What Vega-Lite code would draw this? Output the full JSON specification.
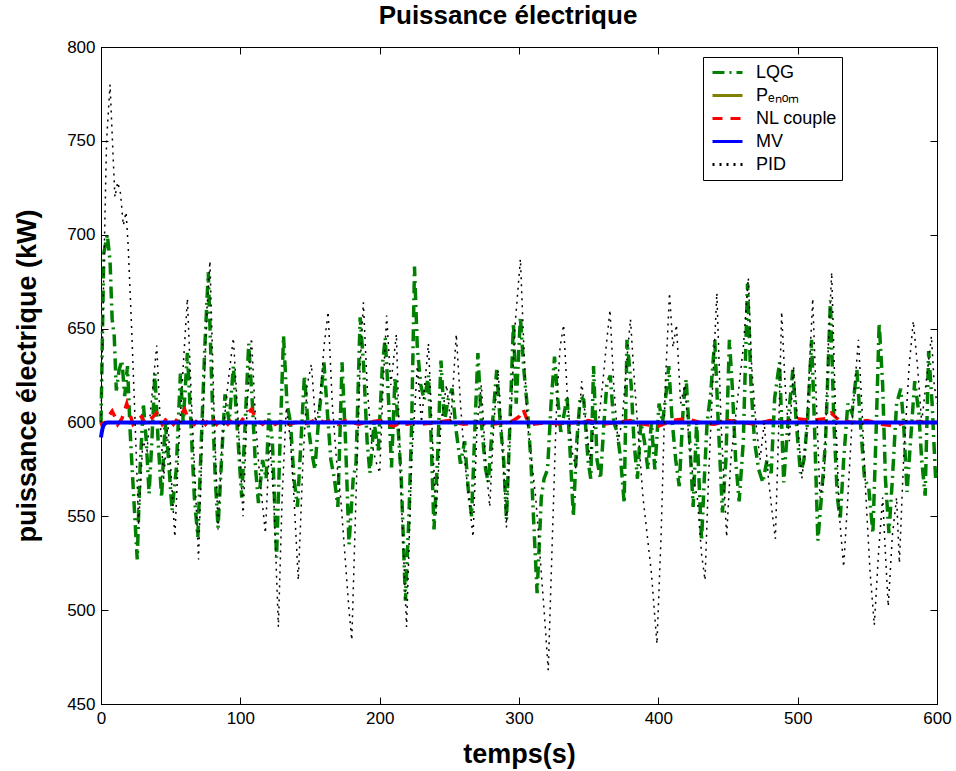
{
"$schema": "https://vega.github.io/schema/vega-lite/v6.json",
"width": 836, "height": 657,
"autosize": {"type": "none"},
"padding": {"left": 101, "top": 47, "right": 19, "bottom": 67},
"background": "white",
"config": {
  "font": "Liberation Sans",
  "view": {"stroke": "black", "strokeWidth": 1},
  "axis": {"grid": false, "domainColor": "black", "tickColor": "black", "labelColor": "black", "titleColor": "black", "labelFont": "Liberation Sans", "titleFont": "Liberation Sans", "labelFontSize": 17, "titleFontSize": 27, "titleFontWeight": "bold", "labelFlush": false, "labelOverlap": false, "tickSize": -7, "labelPadding": 13}
},
"title": {"text": "Puissance électrique", "fontSize": 26, "fontWeight": "bold", "font": "Liberation Sans", "color": "black", "offset": 9, "dx": -11},
"datasets": {
"lqg": [
{"s":"LQG","t":0,"p":600},{"s":"LQG","t":2,"p":690},{"s":"LQG","t":4.5,"p":700},{"s":"LQG","t":6.5,"p":686},{"s":"LQG","t":8,"p":655},{"s":"LQG","t":9.5,"p":646},{"s":"LQG","t":11,"p":617},{"s":"LQG","t":13,"p":628},{"s":"LQG","t":15,"p":633},{"s":"LQG","t":17,"p":614},{"s":"LQG","t":19,"p":630},{"s":"LQG","t":21,"p":594},{"s":"LQG","t":23.5,"p":560},{"s":"LQG","t":26,"p":527},{"s":"LQG","t":28,"p":575},{"s":"LQG","t":30.4,"p":610},{"s":"LQG","t":32.5,"p":590},{"s":"LQG","t":34.5,"p":562},{"s":"LQG","t":36.5,"p":590},{"s":"LQG","t":38.7,"p":626},{"s":"LQG","t":41,"p":590},{"s":"LQG","t":43.5,"p":560},{"s":"LQG","t":46,"p":600},{"s":"LQG","t":48,"p":585},{"s":"LQG","t":51,"p":553},{"s":"LQG","t":54,"p":575},{"s":"LQG","t":57,"p":626},{"s":"LQG","t":59,"p":600},{"s":"LQG","t":62,"p":637},{"s":"LQG","t":64.5,"p":600},{"s":"LQG","t":67,"p":560},{"s":"LQG","t":69.5,"p":539},{"s":"LQG","t":72,"p":590},{"s":"LQG","t":74.5,"p":640},{"s":"LQG","t":77,"p":680},{"s":"LQG","t":79.5,"p":620},{"s":"LQG","t":82,"p":570},{"s":"LQG","t":84,"p":544},{"s":"LQG","t":86.5,"p":580},{"s":"LQG","t":89,"p":615},{"s":"LQG","t":92,"p":600},{"s":"LQG","t":95,"p":630},{"s":"LQG","t":97.5,"p":600},{"s":"LQG","t":101,"p":560},{"s":"LQG","t":103.5,"p":600},{"s":"LQG","t":106,"p":642},{"s":"LQG","t":108.5,"p":612},{"s":"LQG","t":111,"p":575},{"s":"LQG","t":113,"p":557},{"s":"LQG","t":116,"p":580},{"s":"LQG","t":118.5,"p":570},{"s":"LQG","t":120.5,"p":605},{"s":"LQG","t":123,"p":590},{"s":"LQG","t":126,"p":528},{"s":"LQG","t":128.5,"p":590},{"s":"LQG","t":131,"p":646},{"s":"LQG","t":133.5,"p":610},{"s":"LQG","t":136,"p":600},{"s":"LQG","t":138.5,"p":570},{"s":"LQG","t":141,"p":555},{"s":"LQG","t":143.5,"p":590},{"s":"LQG","t":146,"p":625},{"s":"LQG","t":148.5,"p":600},{"s":"LQG","t":151,"p":585},{"s":"LQG","t":153.5,"p":575},{"s":"LQG","t":156,"p":600},{"s":"LQG","t":160,"p":632},{"s":"LQG","t":162.5,"p":605},{"s":"LQG","t":165,"p":580},{"s":"LQG","t":167.5,"p":570},{"s":"LQG","t":170,"p":555},{"s":"LQG","t":173,"p":632},{"s":"LQG","t":175.5,"p":590},{"s":"LQG","t":178,"p":535},{"s":"LQG","t":181,"p":570},{"s":"LQG","t":183,"p":578},{"s":"LQG","t":186,"p":656},{"s":"LQG","t":188.5,"p":630},{"s":"LQG","t":191,"p":590},{"s":"LQG","t":193,"p":573},{"s":"LQG","t":196,"p":600},{"s":"LQG","t":199,"p":585},{"s":"LQG","t":202,"p":631},{"s":"LQG","t":204,"p":645},{"s":"LQG","t":206.5,"p":610},{"s":"LQG","t":208.5,"p":576},{"s":"LQG","t":211,"p":624},{"s":"LQG","t":213,"p":600},{"s":"LQG","t":215.5,"p":570},{"s":"LQG","t":218.5,"p":505},{"s":"LQG","t":221,"p":550},{"s":"LQG","t":223,"p":600},{"s":"LQG","t":225,"p":683},{"s":"LQG","t":227,"p":640},{"s":"LQG","t":229.5,"p":620},{"s":"LQG","t":232,"p":612},{"s":"LQG","t":235,"p":625},{"s":"LQG","t":237,"p":590},{"s":"LQG","t":239,"p":543},{"s":"LQG","t":241.5,"p":580},{"s":"LQG","t":244,"p":633},{"s":"LQG","t":246.5,"p":600},{"s":"LQG","t":249,"p":612},{"s":"LQG","t":252,"p":618},{"s":"LQG","t":255,"p":595},{"s":"LQG","t":258,"p":578},{"s":"LQG","t":261,"p":590},{"s":"LQG","t":263.5,"p":565},{"s":"LQG","t":266,"p":550},{"s":"LQG","t":268.5,"p":600},{"s":"LQG","t":270.5,"p":637},{"s":"LQG","t":273,"p":600},{"s":"LQG","t":276,"p":575},{"s":"LQG","t":278,"p":568},{"s":"LQG","t":281,"p":600},{"s":"LQG","t":284,"p":628},{"s":"LQG","t":286.5,"p":600},{"s":"LQG","t":289,"p":580},{"s":"LQG","t":291,"p":548},{"s":"LQG","t":293.5,"p":600},{"s":"LQG","t":296,"p":653},{"s":"LQG","t":298,"p":610},{"s":"LQG","t":301,"p":656},{"s":"LQG","t":303.5,"p":628},{"s":"LQG","t":306,"p":608},{"s":"LQG","t":308.5,"p":580},{"s":"LQG","t":311,"p":540},{"s":"LQG","t":313,"p":509},{"s":"LQG","t":316,"p":560},{"s":"LQG","t":318,"p":570},{"s":"LQG","t":320.5,"p":575},{"s":"LQG","t":323,"p":610},{"s":"LQG","t":325.5,"p":635},{"s":"LQG","t":327.5,"p":615},{"s":"LQG","t":330,"p":595},{"s":"LQG","t":332.5,"p":605},{"s":"LQG","t":334.5,"p":614},{"s":"LQG","t":337,"p":580},{"s":"LQG","t":339,"p":550},{"s":"LQG","t":341.5,"p":590},{"s":"LQG","t":344,"p":614},{"s":"LQG","t":346.5,"p":612},{"s":"LQG","t":349.5,"p":580},{"s":"LQG","t":351.5,"p":570},{"s":"LQG","t":353.5,"p":630},{"s":"LQG","t":356,"p":580},{"s":"LQG","t":358.5,"p":570},{"s":"LQG","t":361,"p":600},{"s":"LQG","t":363,"p":620},{"s":"LQG","t":365.5,"p":625},{"s":"LQG","t":368,"p":600},{"s":"LQG","t":370.5,"p":595},{"s":"LQG","t":373,"p":580},{"s":"LQG","t":375.5,"p":557},{"s":"LQG","t":377.5,"p":644},{"s":"LQG","t":380.5,"p":620},{"s":"LQG","t":382.5,"p":590},{"s":"LQG","t":385,"p":570},{"s":"LQG","t":387.5,"p":600},{"s":"LQG","t":390,"p":590},{"s":"LQG","t":392.5,"p":575},{"s":"LQG","t":395,"p":600},{"s":"LQG","t":397.5,"p":575},{"s":"LQG","t":400.5,"p":610},{"s":"LQG","t":403,"p":600},{"s":"LQG","t":405.5,"p":615},{"s":"LQG","t":407.5,"p":630},{"s":"LQG","t":410,"p":600},{"s":"LQG","t":412.5,"p":580},{"s":"LQG","t":415,"p":566},{"s":"LQG","t":418,"p":610},{"s":"LQG","t":420,"p":623},{"s":"LQG","t":422.5,"p":590},{"s":"LQG","t":425,"p":555},{"s":"LQG","t":427.5,"p":600},{"s":"LQG","t":431,"p":537},{"s":"LQG","t":433,"p":570},{"s":"LQG","t":435,"p":600},{"s":"LQG","t":437.5,"p":615},{"s":"LQG","t":440.5,"p":644},{"s":"LQG","t":443,"p":600},{"s":"LQG","t":446,"p":552},{"s":"LQG","t":448.5,"p":580},{"s":"LQG","t":451,"p":644},{"s":"LQG","t":453,"p":620},{"s":"LQG","t":455.5,"p":580},{"s":"LQG","t":458,"p":558},{"s":"LQG","t":461,"p":590},{"s":"LQG","t":464,"p":674},{"s":"LQG","t":466.5,"p":620},{"s":"LQG","t":469,"p":590},{"s":"LQG","t":472,"p":575},{"s":"LQG","t":475,"p":568},{"s":"LQG","t":478,"p":580},{"s":"LQG","t":481,"p":573},{"s":"LQG","t":483.5,"p":613},{"s":"LQG","t":487,"p":632},{"s":"LQG","t":490,"p":568},{"s":"LQG","t":493,"p":600},{"s":"LQG","t":496.5,"p":628},{"s":"LQG","t":499,"p":600},{"s":"LQG","t":502,"p":573},{"s":"LQG","t":504.5,"p":580},{"s":"LQG","t":507,"p":600},{"s":"LQG","t":510,"p":644},{"s":"LQG","t":512,"p":600},{"s":"LQG","t":514.5,"p":537},{"s":"LQG","t":517,"p":560},{"s":"LQG","t":520,"p":590},{"s":"LQG","t":523.5,"p":665},{"s":"LQG","t":526,"p":600},{"s":"LQG","t":528.5,"p":560},{"s":"LQG","t":530.5,"p":548},{"s":"LQG","t":533,"p":580},{"s":"LQG","t":536,"p":610},{"s":"LQG","t":539,"p":605},{"s":"LQG","t":542.5,"p":628},{"s":"LQG","t":545,"p":600},{"s":"LQG","t":548,"p":570},{"s":"LQG","t":551,"p":565},{"s":"LQG","t":554,"p":541},{"s":"LQG","t":556.5,"p":600},{"s":"LQG","t":558.5,"p":653},{"s":"LQG","t":561,"p":620},{"s":"LQG","t":563,"p":570},{"s":"LQG","t":565.5,"p":541},{"s":"LQG","t":568,"p":570},{"s":"LQG","t":571,"p":610},{"s":"LQG","t":574,"p":618},{"s":"LQG","t":576,"p":600},{"s":"LQG","t":578.5,"p":563},{"s":"LQG","t":581,"p":590},{"s":"LQG","t":584,"p":622},{"s":"LQG","t":587,"p":605},{"s":"LQG","t":589,"p":580},{"s":"LQG","t":591.5,"p":561},{"s":"LQG","t":594,"p":638},{"s":"LQG","t":596.5,"p":610},{"s":"LQG","t":599,"p":570},{"s":"LQG","t":600,"p":575}
],
"pnom": [{"s":"Pₑₙₒₘ","t":0,"p":600},{"s":"Pₑₙₒₘ","t":600,"p":600}],
"nl": [
{"s":"NL couple","t":0,"p":600},{"s":"NL couple","t":1,"p":598},{"s":"NL couple","t":3,"p":600},{"s":"NL couple","t":5,"p":603},{"s":"NL couple","t":8,"p":606},{"s":"NL couple","t":10,"p":603},{"s":"NL couple","t":12,"p":599},{"s":"NL couple","t":15,"p":602},{"s":"NL couple","t":18.5,"p":610},{"s":"NL couple","t":20.5,"p":605},{"s":"NL couple","t":23,"p":599},{"s":"NL couple","t":26,"p":601},{"s":"NL couple","t":29,"p":603},{"s":"NL couple","t":32,"p":599},{"s":"NL couple","t":36,"p":602},{"s":"NL couple","t":40,"p":605},{"s":"NL couple","t":44,"p":599},{"s":"NL couple","t":48,"p":603},{"s":"NL couple","t":52,"p":599},{"s":"NL couple","t":56,"p":603},{"s":"NL couple","t":60,"p":607},{"s":"NL couple","t":63,"p":601},{"s":"NL couple","t":67,"p":599},{"s":"NL couple","t":71,"p":603},{"s":"NL couple","t":75,"p":599},{"s":"NL couple","t":79,"p":603},{"s":"NL couple","t":83,"p":599},{"s":"NL couple","t":87,"p":602},{"s":"NL couple","t":91,"p":599},{"s":"NL couple","t":95,"p":602},{"s":"NL couple","t":99,"p":599},{"s":"NL couple","t":103,"p":603},{"s":"NL couple","t":108,"p":607},{"s":"NL couple","t":112,"p":601},{"s":"NL couple","t":116,"p":599},{"s":"NL couple","t":120,"p":602},{"s":"NL couple","t":125,"p":599},{"s":"NL couple","t":130,"p":601},{"s":"NL couple","t":135,"p":599},{"s":"NL couple","t":140,"p":600},{"s":"NL couple","t":145,"p":599},{"s":"NL couple","t":150,"p":600},{"s":"NL couple","t":155,"p":602},{"s":"NL couple","t":160,"p":600},{"s":"NL couple","t":165,"p":601},{"s":"NL couple","t":170,"p":599},{"s":"NL couple","t":175,"p":601},{"s":"NL couple","t":180,"p":600},{"s":"NL couple","t":185,"p":599},{"s":"NL couple","t":190,"p":600},{"s":"NL couple","t":200,"p":601},{"s":"NL couple","t":205,"p":599},{"s":"NL couple","t":210,"p":598},{"s":"NL couple","t":215,"p":600},{"s":"NL couple","t":220,"p":599},{"s":"NL couple","t":225,"p":600},{"s":"NL couple","t":230,"p":599},{"s":"NL couple","t":240,"p":600},{"s":"NL couple","t":250,"p":601},{"s":"NL couple","t":260,"p":599},{"s":"NL couple","t":270,"p":600},{"s":"NL couple","t":280,"p":599},{"s":"NL couple","t":290,"p":600},{"s":"NL couple","t":296,"p":601},{"s":"NL couple","t":300,"p":603},{"s":"NL couple","t":303,"p":607},{"s":"NL couple","t":306,"p":601},{"s":"NL couple","t":310,"p":599},{"s":"NL couple","t":320,"p":600},{"s":"NL couple","t":330,"p":599},{"s":"NL couple","t":340,"p":600},{"s":"NL couple","t":350,"p":601},{"s":"NL couple","t":360,"p":599},{"s":"NL couple","t":370,"p":600},{"s":"NL couple","t":380,"p":601},{"s":"NL couple","t":390,"p":599},{"s":"NL couple","t":400,"p":598},{"s":"NL couple","t":410,"p":601},{"s":"NL couple","t":420,"p":602},{"s":"NL couple","t":430,"p":600},{"s":"NL couple","t":440,"p":599},{"s":"NL couple","t":450,"p":601},{"s":"NL couple","t":460,"p":600},{"s":"NL couple","t":470,"p":599},{"s":"NL couple","t":480,"p":601},{"s":"NL couple","t":490,"p":600},{"s":"NL couple","t":500,"p":602},{"s":"NL couple","t":510,"p":601},{"s":"NL couple","t":520,"p":602},{"s":"NL couple","t":524,"p":605},{"s":"NL couple","t":530,"p":601},{"s":"NL couple","t":540,"p":600},{"s":"NL couple","t":550,"p":601},{"s":"NL couple","t":560,"p":599},{"s":"NL couple","t":570,"p":598},{"s":"NL couple","t":580,"p":601},{"s":"NL couple","t":590,"p":600},{"s":"NL couple","t":600,"p":600}
],
"mv": [
{"s":"MV","t":0,"p":592},{"s":"MV","t":0.5,"p":594.5},{"s":"MV","t":1,"p":596.5},{"s":"MV","t":1.5,"p":597.8},{"s":"MV","t":2,"p":598.7},{"s":"MV","t":3,"p":599.5},{"s":"MV","t":4,"p":599.9},{"s":"MV","t":6,"p":600},{"s":"MV","t":600,"p":600}
],
"pid": [
{"s":"PID","t":0,"p":600},{"s":"PID","t":2,"p":680},{"s":"PID","t":4,"p":750},{"s":"PID","t":6.5,"p":780},{"s":"PID","t":8.5,"p":745},{"s":"PID","t":10,"p":720},{"s":"PID","t":12,"p":728},{"s":"PID","t":14,"p":722},{"s":"PID","t":16,"p":705},{"s":"PID","t":18,"p":712},{"s":"PID","t":19.5,"p":694},{"s":"PID","t":22,"p":650},{"s":"PID","t":24.5,"p":600},{"s":"PID","t":27,"p":545},{"s":"PID","t":30,"p":590},{"s":"PID","t":33,"p":585},{"s":"PID","t":36,"p":610},{"s":"PID","t":40,"p":641},{"s":"PID","t":42.5,"p":600},{"s":"PID","t":45,"p":570},{"s":"PID","t":48,"p":600},{"s":"PID","t":50.5,"p":570},{"s":"PID","t":53,"p":539},{"s":"PID","t":56,"p":590},{"s":"PID","t":59,"p":630},{"s":"PID","t":62,"p":666},{"s":"PID","t":65,"p":610},{"s":"PID","t":67.5,"p":570},{"s":"PID","t":70,"p":527},{"s":"PID","t":73,"p":600},{"s":"PID","t":76,"p":660},{"s":"PID","t":78.2,"p":686},{"s":"PID","t":81,"p":610},{"s":"PID","t":84,"p":543},{"s":"PID","t":87,"p":590},{"s":"PID","t":91,"p":620},{"s":"PID","t":95,"p":645},{"s":"PID","t":98.5,"p":600},{"s":"PID","t":102,"p":550},{"s":"PID","t":105,"p":610},{"s":"PID","t":108,"p":645},{"s":"PID","t":111,"p":600},{"s":"PID","t":114,"p":570},{"s":"PID","t":118,"p":541},{"s":"PID","t":121,"p":590},{"s":"PID","t":124,"p":560},{"s":"PID","t":127.3,"p":491},{"s":"PID","t":130,"p":560},{"s":"PID","t":133,"p":608},{"s":"PID","t":136,"p":590},{"s":"PID","t":138.5,"p":560},{"s":"PID","t":141.6,"p":516},{"s":"PID","t":145,"p":580},{"s":"PID","t":148,"p":620},{"s":"PID","t":151,"p":631},{"s":"PID","t":154,"p":600},{"s":"PID","t":157,"p":610},{"s":"PID","t":160,"p":640},{"s":"PID","t":163,"p":659},{"s":"PID","t":166,"p":610},{"s":"PID","t":169,"p":580},{"s":"PID","t":172,"p":560},{"s":"PID","t":175,"p":530},{"s":"PID","t":178,"p":500},{"s":"PID","t":180,"p":484},{"s":"PID","t":183,"p":560},{"s":"PID","t":186,"p":630},{"s":"PID","t":188.3,"p":664},{"s":"PID","t":191,"p":620},{"s":"PID","t":194,"p":590},{"s":"PID","t":197,"p":580},{"s":"PID","t":200,"p":573},{"s":"PID","t":202.5,"p":620},{"s":"PID","t":205,"p":657},{"s":"PID","t":208,"p":620},{"s":"PID","t":212,"p":647},{"s":"PID","t":215,"p":570},{"s":"PID","t":219.3,"p":491},{"s":"PID","t":223,"p":580},{"s":"PID","t":227,"p":630},{"s":"PID","t":230,"p":600},{"s":"PID","t":235,"p":642},{"s":"PID","t":238,"p":590},{"s":"PID","t":240.5,"p":550},{"s":"PID","t":244,"p":600},{"s":"PID","t":248,"p":620},{"s":"PID","t":251,"p":600},{"s":"PID","t":255,"p":647},{"s":"PID","t":258,"p":610},{"s":"PID","t":261,"p":580},{"s":"PID","t":264,"p":560},{"s":"PID","t":267,"p":539},{"s":"PID","t":270,"p":600},{"s":"PID","t":273,"p":620},{"s":"PID","t":276,"p":580},{"s":"PID","t":279,"p":555},{"s":"PID","t":282,"p":600},{"s":"PID","t":285,"p":628},{"s":"PID","t":288,"p":590},{"s":"PID","t":291,"p":544},{"s":"PID","t":294,"p":600},{"s":"PID","t":297,"p":650},{"s":"PID","t":301,"p":687},{"s":"PID","t":303.5,"p":640},{"s":"PID","t":306,"p":600},{"s":"PID","t":309,"p":580},{"s":"PID","t":312,"p":560},{"s":"PID","t":315,"p":530},{"s":"PID","t":318,"p":500},{"s":"PID","t":321,"p":468},{"s":"PID","t":324,"p":540},{"s":"PID","t":327,"p":610},{"s":"PID","t":329.5,"p":640},{"s":"PID","t":332,"p":652},{"s":"PID","t":335,"p":610},{"s":"PID","t":338,"p":585},{"s":"PID","t":341,"p":575},{"s":"PID","t":343,"p":600},{"s":"PID","t":345,"p":622},{"s":"PID","t":348,"p":600},{"s":"PID","t":351,"p":580},{"s":"PID","t":354,"p":600},{"s":"PID","t":357,"p":600},{"s":"PID","t":360,"p":620},{"s":"PID","t":362.5,"p":640},{"s":"PID","t":365.3,"p":660},{"s":"PID","t":368,"p":620},{"s":"PID","t":371,"p":590},{"s":"PID","t":374,"p":600},{"s":"PID","t":377,"p":630},{"s":"PID","t":380,"p":655},{"s":"PID","t":383,"p":620},{"s":"PID","t":386,"p":590},{"s":"PID","t":389,"p":560},{"s":"PID","t":392,"p":540},{"s":"PID","t":395,"p":520},{"s":"PID","t":399,"p":482},{"s":"PID","t":402,"p":540},{"s":"PID","t":405,"p":620},{"s":"PID","t":408,"p":669},{"s":"PID","t":410.5,"p":640},{"s":"PID","t":413,"p":652},{"s":"PID","t":416,"p":610},{"s":"PID","t":419,"p":620},{"s":"PID","t":422,"p":590},{"s":"PID","t":425,"p":570},{"s":"PID","t":428,"p":560},{"s":"PID","t":431,"p":530},{"s":"PID","t":433.5,"p":516},{"s":"PID","t":436,"p":570},{"s":"PID","t":439,"p":620},{"s":"PID","t":442,"p":669},{"s":"PID","t":445,"p":600},{"s":"PID","t":449,"p":539},{"s":"PID","t":452,"p":580},{"s":"PID","t":455,"p":600},{"s":"PID","t":458,"p":620},{"s":"PID","t":461,"p":640},{"s":"PID","t":464.6,"p":677},{"s":"PID","t":467,"p":630},{"s":"PID","t":470,"p":600},{"s":"PID","t":473,"p":580},{"s":"PID","t":476,"p":600},{"s":"PID","t":479,"p":570},{"s":"PID","t":482,"p":550},{"s":"PID","t":484,"p":538},{"s":"PID","t":486.5,"p":600},{"s":"PID","t":488.5,"p":659},{"s":"PID","t":491,"p":620},{"s":"PID","t":494,"p":590},{"s":"PID","t":497,"p":630},{"s":"PID","t":500,"p":600},{"s":"PID","t":503,"p":570},{"s":"PID","t":506,"p":590},{"s":"PID","t":508.5,"p":630},{"s":"PID","t":510.8,"p":666},{"s":"PID","t":513,"p":620},{"s":"PID","t":516,"p":560},{"s":"PID","t":519,"p":570},{"s":"PID","t":522,"p":640},{"s":"PID","t":524.4,"p":680},{"s":"PID","t":527,"p":610},{"s":"PID","t":530,"p":550},{"s":"PID","t":533,"p":523},{"s":"PID","t":536,"p":560},{"s":"PID","t":539,"p":600},{"s":"PID","t":541,"p":620},{"s":"PID","t":543.6,"p":644},{"s":"PID","t":546,"p":610},{"s":"PID","t":549,"p":560},{"s":"PID","t":552,"p":520},{"s":"PID","t":555,"p":492},{"s":"PID","t":558,"p":530},{"s":"PID","t":561,"p":560},{"s":"PID","t":563,"p":530},{"s":"PID","t":565,"p":502},{"s":"PID","t":568,"p":540},{"s":"PID","t":571,"p":560},{"s":"PID","t":573,"p":525},{"s":"PID","t":576,"p":580},{"s":"PID","t":580,"p":630},{"s":"PID","t":583,"p":654},{"s":"PID","t":586,"p":630},{"s":"PID","t":589,"p":600},{"s":"PID","t":592,"p":620},{"s":"PID","t":596,"p":646},{"s":"PID","t":598,"p":620},{"s":"PID","t":600,"p":610}
]
},
"encoding": {
  "x": {"field": "t", "type": "quantitative", "scale": {"domain": [0, 600], "nice": false, "zero": false}},
  "y": {"field": "p", "type": "quantitative", "scale": {"domain": [450, 800], "nice": false, "zero": false}},
  "color": {"field": "s", "type": "nominal", "scale": {"domain": ["LQG", "Pₑₙₒₘ", "NL couple", "MV", "PID"], "range": ["#008000", "#808000", "#ff0000", "#0000ff", "#000000"]},
    "legend": {"title": null, "orient": "none", "legendX": 602, "legendY": 10, "strokeColor": "black", "fillColor": "white", "padding": 4, "cornerRadius": 0, "symbolType": "stroke", "symbolSize": 900, "symbolStrokeWidth": 3, "symbolOffset": 4, "labelFontSize": 18, "labelFont": "Liberation Sans", "labelColor": "black", "rowPadding": 0, "clipHeight": 23, "labelOffset": 12}},
  "strokeDash": {"field": "s", "type": "nominal", "scale": {"domain": ["LQG", "Pₑₙₒₘ", "NL couple", "MV", "PID"], "range": [[12, 5, 2, 5], [1, 0], [10, 8], [1, 0], [2, 5]]},
    "legend": {"title": null, "orient": "none", "legendX": 602, "legendY": 10, "strokeColor": "black", "fillColor": "white", "padding": 4, "cornerRadius": 0, "symbolType": "stroke", "symbolSize": 900, "symbolStrokeWidth": 3, "symbolOffset": 4, "labelFontSize": 18, "labelFont": "Liberation Sans", "labelColor": "black", "rowPadding": 0, "clipHeight": 23, "labelOffset": 12}}
},
"layer": [
  {"data": {"name": "lqg"}, "mark": {"type": "line", "strokeWidth": 3.5},
   "encoding": {
     "x": {"field": "t", "type": "quantitative", "axis": {"values": [0, 100, 200, 300, 400, 500, 600], "title": "temps(s)", "titlePadding": 15, "orient": "bottom"}},
     "y": {"field": "p", "type": "quantitative", "axis": {"values": [450, 500, 550, 600, 650, 700, 750, 800], "title": "puissance électrique (kW)", "titlePadding": 25, "orient": "left"}}}},
  {"data": {"name": "pnom"}, "mark": {"type": "line", "strokeWidth": 3},
   "encoding": {
     "x": {"field": "t", "type": "quantitative", "axis": {"values": [0, 100, 200, 300, 400, 500, 600], "title": null, "labels": false, "orient": "top"}},
     "y": {"field": "p", "type": "quantitative", "axis": {"values": [450, 500, 550, 600, 650, 700, 750, 800], "title": null, "labels": false, "orient": "right"}}}},
  {"data": {"name": "nl"}, "mark": {"type": "line", "strokeWidth": 3.5},
   "encoding": {"x": {"field": "t", "type": "quantitative", "axis": null}, "y": {"field": "p", "type": "quantitative", "axis": null}}},
  {"data": {"name": "mv"}, "mark": {"type": "line", "strokeWidth": 4},
   "encoding": {"x": {"field": "t", "type": "quantitative", "axis": null}, "y": {"field": "p", "type": "quantitative", "axis": null}}},
  {"data": {"name": "pid"}, "mark": {"type": "line", "strokeWidth": 1.5},
   "encoding": {"x": {"field": "t", "type": "quantitative", "axis": null}, "y": {"field": "p", "type": "quantitative", "axis": null}}}
],
"resolve": {"axis": {"x": "independent", "y": "independent"}}
}
